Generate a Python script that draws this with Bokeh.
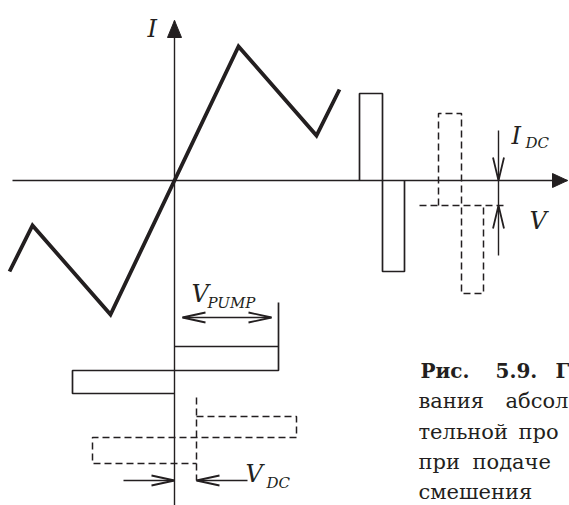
from bokeh.plotting import figure
from bokeh.models import Range1d
from bokeh.core.properties import value
from bokeh.embed import file_html
from bokeh.resources import INLINE

# ---- data (V horizontal, I vertical; origin at the axes crossing) ----
# I-V characteristic: piecewise-linear, odd-symmetric
iv_v = [-165, -142, -64, 64, 142, 165]
iv_i = [-91, -45, -134, 134, 45, 91]

# axis extents
v_axis_span = [-162, 393]
i_axis_span = [-325, 160]

# current response to the symmetric pump (time running along the V axis)
i_resp_t = [185, 208, 230]
i_resp_amp = [87, -91]

# current response with DC bias: shifted pulses and their mean level
i_bias_t = [264, 287, 309]
i_bias_amp = [67, -113]
i_dc_level = -25
i_dc_span = [245, 331]
i_dc_marker_v = 324
i_dc_marker_span = [50, -75]

# symmetric pump voltage (time running down the I axis)
v_pump_t = [-166, -190, -213]
v_pump_amp = [104, -102]
v_pump_marker_top = -122
v_pump_arrow_level = -137
v_pump_arrow_ends = [8, 97]

# pump voltage with DC bias
v_dc = 22
v_bias_t = [-236, -257, -283]
v_bias_amp = [122, -82]
v_dc_line_span = [-217, -300]
v_dc_arrow_level = -300
v_dc_arrow_tails = [-51, 73]

# caption words: (text, left px, line index)
caption_bold = [("Рис.", 420, 0), ("5.9.", 495, 0), ("Г", 555, 0)]
caption_words = [("вания", 418, 1), ("абсол", 505, 1),
                 ("тельной", 418, 2), ("про", 518, 2),
                 ("при", 418, 3), ("подаче", 472, 3),
                 ("смешения", 418, 4)]

# ---- figure ----
OX, OY = 174, 180          # pixel position of the origin
W, H = 569, 505
p = figure(width=W, height=H, x_range=Range1d(-OX, W - OX), y_range=Range1d(OY - H, OY),
           output_backend="svg", toolbar_location=None, min_border=0,
           x_axis_type=None, y_axis_type=None)
p.grid.visible = False
p.outline_line_color = None
p.background_fill_color = "white"
p.border_fill_color = "white"

INK = "#231f20"


def px(x, y):
    return x - OX, OY - y


def filled_head(tip, d, length, half):
    tx, ty = tip
    dx, dy = d
    nx, ny = -dy, dx
    bx, by = tx - dx * length, ty - dy * length
    return ([tx, bx + nx * half, bx - nx * half], [ty, by + ny * half, by - ny * half])


def open_head(tip, d, length, half):
    tx, ty = tip
    dx, dy = d
    nx, ny = -dy, dx
    bx, by = tx - dx * length, ty - dy * length
    return [[bx + nx * half, tx, bx - nx * half]], [[by + ny * half, ty, by - ny * half]]


# axes
p.line(v_axis_span, [0, 0], line_color=INK, line_width=1.4)
p.line([0, 0], i_axis_span, line_color=INK, line_width=1.4)
hx, hy = filled_head((0, i_axis_span[1]), (0, 1), 17, 7)
p.patch(hx, hy, fill_color=INK, line_color=INK)
hx, hy = filled_head((v_axis_span[1], 0), (1, 0), 15, 7)
p.patch(hx, hy, fill_color=INK, line_color=INK)

# I-V curve
p.line(iv_v, iv_i, line_color=INK, line_width=3.8, line_join="miter")

# current pulses, no bias
t, a = i_resp_t, i_resp_amp
p.line([t[0], t[0], t[1], t[1], t[2], t[2]], [0, a[0], a[0], a[1], a[1], 0],
       line_color=INK, line_width=1.7)

# current pulses with bias (dashed)
DASH = "7 4"
t, a = i_bias_t, i_bias_amp
p.line([t[0], t[0], t[1], t[1], t[2], t[2]],
       [i_dc_level, a[0], a[0], a[1], a[1], i_dc_level],
       line_color=INK, line_width=1.5, line_dash=DASH)
p.line(i_dc_span, [i_dc_level, i_dc_level], line_color=INK, line_width=1.5, line_dash=DASH)

# I_DC marker
p.line([i_dc_marker_v, i_dc_marker_v], i_dc_marker_span, line_color=INK, line_width=1.4)
for tip, d in [((i_dc_marker_v, 0), (0, -1)), ((i_dc_marker_v, i_dc_level), (0, 1))]:
    xs, ys = open_head(tip, d, 23, 5.5)
    p.multi_line(xs, ys, line_color=INK, line_width=1.8)

# pump voltage, no bias
t, a = v_pump_t, v_pump_amp
p.line([0, a[0]], [t[0], t[0]], line_color=INK, line_width=1.7)
p.line([a[0], a[0], a[1], a[1], 0], [v_pump_marker_top, t[1], t[1], t[2], t[2]],
       line_color=INK, line_width=1.7)

# V_PUMP span arrow
e = v_pump_arrow_ends
p.line(e, [v_pump_arrow_level] * 2, line_color=INK, line_width=1.4)
for tip, d in [((e[0], v_pump_arrow_level), (-1, 0)), ((e[1], v_pump_arrow_level), (1, 0))]:
    xs, ys = open_head(tip, d, 23, 5)
    p.multi_line(xs, ys, line_color=INK, line_width=1.8)

# pump voltage with bias (dashed)
t, a = v_bias_t, v_bias_amp
p.line([v_dc, v_dc], v_dc_line_span, line_color=INK, line_width=1.5, line_dash=DASH)
p.line([v_dc, a[0], a[0], a[1], a[1], v_dc], [t[0], t[0], t[1], t[1], t[2], t[2]],
       line_color=INK, line_width=1.5, line_dash=DASH)

# V_DC arrows
for tail, tip in zip(v_dc_arrow_tails, [0, v_dc]):
    p.line([tail, tip], [v_dc_arrow_level] * 2, line_color=INK, line_width=1.4)
    d = (1, 0) if tip > tail else (-1, 0)
    xs, ys = open_head((tip, v_dc_arrow_level), d, 23, 5)
    p.multi_line(xs, ys, line_color=INK, line_width=1.8)

# ---- labels ----
SERIF = value("DejaVu Serif")


def label(txt, x, y, size, style="italic"):
    dx, dy = px(x, y)
    p.text([dx], [dy], text=[txt], text_font=SERIF, text_font_style=style,
           text_font_size=f"{size}px", text_color=INK,
           text_align="left", text_baseline="alphabetic")


label("I", 147, 28, 24)
label("V", 529, 220, 24)
label("I", 511, 135, 24)
label("DC", 525, 142, 15)
label("V", 191, 293, 24)
label("PUMP", 207, 302, 15)
label("V", 245, 473, 24)
label("DC", 266, 482, 15)

# caption
BASE = [370, 400.5, 431, 461.5, 491]
for w, x, ln in caption_bold:
    label(w, x, BASE[ln], 20, "bold")
for w, x, ln in caption_words:
    label(w, x, BASE[ln], 21, "normal")

open("out.html", "w").write(file_html(p, INLINE))
